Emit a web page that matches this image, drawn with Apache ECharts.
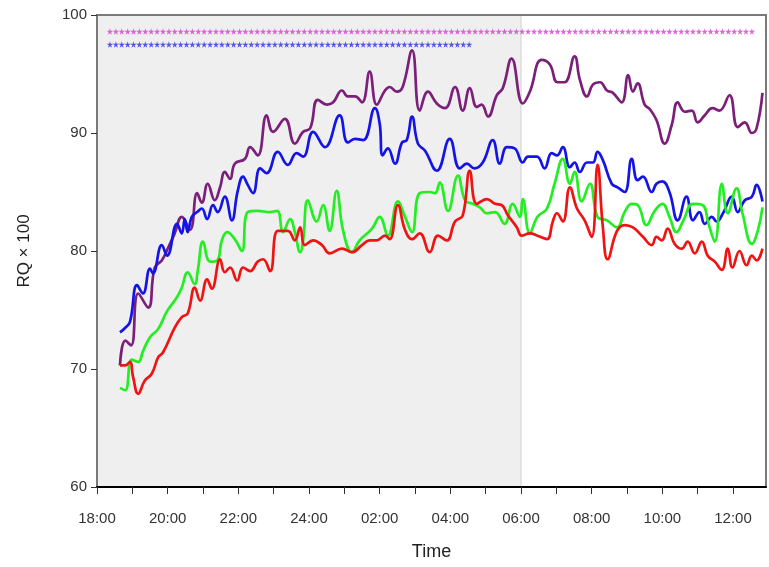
<!DOCTYPE html>
<html><head><meta charset="utf-8">
<script src="https://cdn.jsdelivr.net/npm/echarts@6/dist/echarts.min.js"></script>
<style>html,body{margin:0;padding:0;background:#fff}#c{width:769px;height:567px}</style>
</head><body><div id="c"></div>
<script>
// time in minutes after 18:00, value = RQ x 100
const xTickLabels = ['18:00','20:00','22:00','24:00','02:00','04:00','06:00','08:00','10:00','12:00'];
const xLabelMinutes = [0,120,240,360,480,600,720,840,960,1080];
const xTickMinutes = [0,60,120,180,240,300,360,420,480,540,600,660,720,780,840,900,960,1020,1080];
const darkShadeEnd = 720; // 06:00

const purple = [[39,70.3],[48,72.4],[58,72.0],[70,76.4],[87,75.2],[98,78.6],[110,79.2],[121,80.3],[132,81.5],[144,82.9],[158,81.8],[170,84.9],[178,84.1],[188,85.7],[200,84.3],[209,85.4],[217,86.7],[226,86.1],[234,87.4],[251,87.8],[260,88.8],[273,88.1],[288,91.5],[299,90.1],[319,91.2],[336,89.1],[350,90.1],[362,90.4],[375,92.8],[391,92.4],[401,92.6],[416,93.6],[426,93.1],[438,93.1],[450,92.6],[463,95.2],[475,92.4],[489,93.6],[497,93.9],[509,93.5],[519,93.9],[535,97.0],[548,91.9],[562,93.5],[577,92.5],[591,92.1],[608,93.9],[621,91.9],[633,93.8],[645,92.2],[653,92.4],[664,91.4],[679,93.2],[689,93.8],[704,96.3],[723,92.5],[735,93.5],[755,96.2],[769,95.8],[782,94.3],[794,94.3],[811,96.5],[820,94.5],[832,93.1],[842,94.1],[854,94.3],[866,93.6],[876,93.4],[891,92.6],[902,94.9],[910,93.5],[918,94.2],[930,92.4],[939,92.0],[950,91.1],[964,89.1],[976,90.7],[986,92.6],[998,91.8],[1010,91.9],[1020,90.9],[1032,91.5],[1045,92.1],[1057,91.9],[1074,93.2],[1088,90.5],[1100,90.9],[1112,90.0],[1120,90.4],[1130,93.4]];

const blue = [[39,73.1],[48,73.5],[56,74.0],[68,77.1],[78,76.4],[90,78.5],[95,78.1],[110,80.5],[119,79.6],[136,82.3],[144,81.5],[149,82.7],[154,81.6],[161,82.9],[170,83.3],[178,83.6],[187,82.7],[197,83.9],[205,83.3],[217,84.6],[229,82.6],[239,85.1],[248,86.3],[256,85.6],[265,84.9],[277,87.0],[288,86.6],[307,88.4],[324,87.3],[339,88.3],[350,88.0],[367,90.1],[387,88.8],[412,91.5],[426,89.2],[438,89.5],[452,89.4],[472,92.1],[480,90.8],[485,88.1],[494,88.7],[506,87.4],[518,89.2],[526,89.4],[535,91.4],[545,89.1],[557,88.5],[577,86.8],[599,89.5],[616,87.0],[628,87.4],[641,87.0],[655,87.5],[672,89.4],[684,87.4],[696,88.8],[709,88.7],[723,87.5],[732,88.0],[747,88.0],[760,87.0],[772,88.3],[781,88.1],[791,88.8],[803,87.1],[811,87.5],[820,86.7],[832,87.5],[842,87.5],[850,88.4],[859,87.7],[874,85.7],[884,85.4],[896,85.0],[908,87.8],[918,86.0],[927,86.3],[942,85.0],[950,85.7],[960,85.9],[972,85.0],[986,82.6],[1001,84.6],[1012,82.6],[1023,83.3],[1032,82.3],[1044,82.9],[1052,82.5],[1063,83.2],[1078,84.6],[1088,83.3],[1100,84.3],[1112,84.6],[1120,85.6],[1130,84.2]];

const green = [[39,68.4],[48,68.2],[59,70.8],[70,70.6],[78,71.5],[90,72.7],[104,73.4],[119,74.9],[136,76.1],[144,76.9],[154,78.2],[166,77.2],[171,78.3],[180,80.8],[192,79.1],[204,79.2],[212,80.9],[221,81.6],[234,81.0],[246,80.0],[256,83.3],[273,83.4],[294,83.3],[306,83.4],[316,81.6],[328,82.7],[336,81.6],[345,79.9],[350,80.9],[358,84.3],[373,82.5],[384,83.9],[395,81.7],[407,85.1],[418,81.7],[433,79.9],[446,80.9],[467,81.9],[480,82.9],[494,81.3],[511,84.2],[523,82.9],[535,81.6],[548,84.9],[565,85.0],[574,84.9],[582,85.8],[596,83.4],[613,86.4],[625,84.3],[638,84.0],[650,83.7],[662,83.2],[676,83.3],[692,82.3],[706,84.0],[718,82.9],[723,84.4],[735,81.5],[748,82.9],[764,83.6],[777,85.7],[791,87.8],[803,85.7],[811,86.7],[823,84.2],[837,85.7],[850,82.9],[866,82.6],[883,82.0],[896,83.3],[908,84.0],[918,83.9],[933,82.2],[947,83.4],[960,84.0],[972,82.9],[984,81.6],[995,82.5],[1012,84.0],[1028,83.9],[1039,82.2],[1049,80.8],[1061,85.7],[1071,83.2],[1086,85.3],[1096,83.2],[1112,80.6],[1122,81.7],[1130,83.7]];

const red = [[39,70.3],[48,70.3],[56,70.6],[61,69.4],[70,67.9],[81,69.0],[93,69.6],[104,71.0],[112,71.4],[132,73.5],[144,74.4],[154,74.7],[166,76.9],[175,75.8],[187,77.6],[195,76.8],[209,79.3],[217,78.2],[226,78.6],[238,77.5],[248,78.6],[260,78.3],[273,79.1],[282,79.3],[294,78.3],[307,81.7],[324,81.7],[336,80.9],[345,82.0],[353,80.5],[367,80.9],[382,80.5],[395,79.8],[416,80.2],[433,79.9],[450,80.5],[463,80.9],[475,80.9],[489,81.3],[497,81.0],[511,83.9],[523,81.8],[535,81.0],[548,81.5],[565,79.9],[579,81.3],[594,80.9],[608,82.5],[621,83.0],[633,86.8],[645,84.0],[662,84.4],[676,84.0],[687,83.9],[698,83.0],[713,82.0],[721,81.3],[735,81.5],[748,81.3],[764,81.0],[774,82.5],[781,83.2],[791,82.5],[803,85.4],[815,83.6],[828,82.6],[840,81.2],[850,87.3],[859,82.0],[867,79.3],[883,81.7],[896,82.2],[910,82.0],[927,81.2],[942,80.5],[950,81.2],[959,80.9],[969,81.9],[981,80.6],[993,80.2],[1003,80.8],[1015,79.8],[1027,80.8],[1037,79.6],[1049,79.1],[1061,78.4],[1071,80.2],[1079,78.6],[1091,80.0],[1103,78.8],[1112,79.6],[1120,79.2],[1130,80.2]];

// significance marks (times in minutes after 18:00)
const magentaStarTimes = [22,32,42,52,62,72,82,92,102,112,122,132,142,152,162,172,182,192,202,212,222,232,242,252,262,272,282,292,302,312,322,332,342,352,362,372,382,392,402,412,422,432,442,452,462,472,482,492,502,512,522,532,542,552,562,572,582,592,602,612,622,632,642,652,662,672,682,692,702,712,722,732,742,752,762,772,782,792,802,812,822,832,842,852,862,872,882,892,902,912,922,932,942,952,962,972,982,992,1002,1012,1022,1032,1042,1052,1062,1072,1082,1092,1102,1112];
const magentaStarLevel = 98.6;
const blueStarTimes = [22,32,42,52,62,72,82,92,102,112,122,132,142,152,162,172,182,192,202,212,222,232,242,252,262,272,282,292,302,312,322,332,342,352,362,372,382,392,402,412,422,432,442,452,462,472,482,492,502,512,522,532,542,552,562,572,582,592,602,612,622,632];
const blueStarLevel = 97.5;

const STAR = 'path://M50,0 L61,35 L98,35 L68,57 L79,91 L50,70 L21,91 L32,57 L2,35 L39,35 Z';
const FONT = 'Liberation Sans, Arial, sans-serif';

const chart = echarts.init(document.getElementById('c'), null, {renderer: 'canvas'});
function lineSeries(name, data, color) {
  return {
    name, type: 'line', data, smooth: 0.45, showSymbol: false, symbol: 'none',
    lineStyle: {color, width: 2.7}, itemStyle: {color}, z: 3, animation: false
  };
}
const option = {
  animation: false,
  backgroundColor: '#ffffff',
  grid: {left: 97, right: 3, top: 15, bottom: 80, show: true, z: 10, borderColor: '#7a7a7a', borderWidth: 2, backgroundColor: 'transparent'},
  xAxis: {
    type: 'value', min: 0, max: 1136, z: 12,
    name: 'Time', nameLocation: 'middle', nameGap: 56,
    nameTextStyle: {fontFamily: FONT, fontSize: 18, color: '#222'},
    axisLine: {show: true, onZero: false, lineStyle: {color: '#000', width: 2}},
    axisTick: {show: true, customValues: xTickMinutes, length: 7, lineStyle: {color: '#333', width: 1}},
    axisLabel: {customValues: xLabelMinutes, margin: 24, fontFamily: FONT, fontSize: 15, color: '#333',
      formatter: v => xTickLabels[xLabelMinutes.indexOf(v)] || ''},
    splitLine: {show: false}
  },
  yAxis: {
    type: 'value', min: 60, max: 100, interval: 10, z: 12,
    name: 'RQ × 100', nameLocation: 'middle', nameGap: 64, nameRotate: 90,
    nameTextStyle: {fontFamily: FONT, fontSize: 17, color: '#222'},
    axisLine: {show: true, lineStyle: {color: '#7a7a7a', width: 2}},
    axisTick: {show: true, length: 6, lineStyle: {color: '#333', width: 1}},
    axisLabel: {margin: 10, fontFamily: FONT, fontSize: 15, color: '#333'},
    splitLine: {show: false}
  },
  series: [
    {
      type: 'line', data: [], silent: true, z: 1,
      markArea: {silent: true, itemStyle: {color: '#efefef', borderColor: '#d0d0d0', borderWidth: 1},
        data: [[{xAxis: 0}, {xAxis: darkShadeEnd}]]}
    },
    lineSeries('Purple', purple, '#7b1f7b'),
    lineSeries('Blue', blue, '#1414e6'),
    lineSeries('Green', green, '#22ee22'),
    lineSeries('Red', red, '#ee1414'),
    {type: 'scatter', data: magentaStarTimes.map(t => [t, magentaStarLevel]), symbol: STAR, symbolSize: 6.5,
      itemStyle: {color: '#d040d0'}, z: 4, silent: true},
    {type: 'scatter', data: blueStarTimes.map(t => [t, blueStarLevel]), symbol: STAR, symbolSize: 6.5,
      itemStyle: {color: '#3030e0'}, z: 4, silent: true}
  ]
};
chart.setOption(option);
</script></body></html>
